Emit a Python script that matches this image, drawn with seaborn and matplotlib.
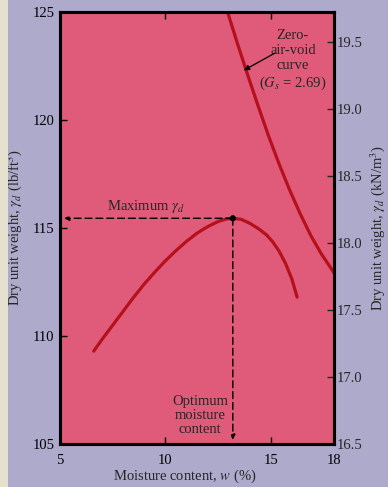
import matplotlib
matplotlib.use("Agg")
import matplotlib.pyplot as plt
from matplotlib.patches import Rectangle
import seaborn as sns
import pandas as pd

# Compaction test curve: moisture content (%) vs dry unit weight (lb/ft^3)
compaction_w = [6.6, 7.0, 7.5, 8.0, 8.5, 9.0, 9.5, 10.0, 10.5, 11.0, 11.5, 12.0, 12.5, 12.9,
                13.2, 13.6, 14.0, 14.4, 14.8, 15.1, 15.4, 15.7, 16.0, 16.25]
compaction_gd = [109.3, 109.85, 110.5, 111.15, 111.8, 112.41, 112.96, 113.48, 113.95, 114.38,
                 114.76, 115.06, 115.3, 115.42, 115.45, 115.4, 115.22, 114.98, 114.68, 114.35,
                 113.92, 113.36, 112.64, 111.8]

# Zero-air-void curve (Gs = 2.69)
zav_w = [12.95, 13.4, 13.9, 14.4, 14.9, 15.4, 15.9, 16.4, 16.9, 17.4, 17.95, 18.0]
zav_gd = [125.0, 123.6, 122.1, 120.65, 119.25, 117.95, 116.75, 115.65, 114.65, 113.8, 113.0, 112.92]

# Optimum point
opt_w = 13.2
max_gd = 115.45

x_ticks = [5, 10, 15, 18]
y_ticks = [105, 110, 115, 120, 125]
y2_ticks = [16.5, 17.0, 17.5, 18.0, 18.5, 19.0, 19.5]

sns.set_style("ticks")
plt.rcParams["font.family"] = ["Liberation Serif", "DejaVu Serif"]
plt.rcParams["mathtext.fontset"] = "stix"

PINK = "#df5b79"
LAVENDER = "#aeaacb"
CURVE = "#b5101c"
FS = 10.5

fig = plt.figure(figsize=(3.88, 4.87), dpi=100, facecolor=LAVENDER)
fig.patches.append(Rectangle((0, 0), 8 / 388, 1, transform=fig.transFigure,
                             facecolor="#e6e0cf", edgecolor="none", zorder=0))
ax = fig.add_axes([60 / 388, 43 / 487, 274 / 388, 432 / 487])
ax.set_facecolor(PINK)

comp_df = pd.DataFrame({"w": compaction_w, "gd": compaction_gd})
zav_df = pd.DataFrame({"w": zav_w, "gd": zav_gd})
sns.lineplot(data=comp_df, x="w", y="gd", sort=False, estimator=None,
             color=CURVE, linewidth=2.3, ax=ax, zorder=3)
sns.lineplot(data=zav_df, x="w", y="gd", sort=False, estimator=None,
             color=CURVE, linewidth=2.3, ax=ax, zorder=3)

# Dashed guides to the axes with arrowheads
ax.annotate("", xy=(5.2, max_gd), xytext=(opt_w, max_gd),
            arrowprops=dict(arrowstyle="-|>", linestyle=(0, (5, 2.8)), lw=1.0,
                            color="black", mutation_scale=7, shrinkA=0, shrinkB=0), zorder=4)
ax.annotate("", xy=(opt_w, 105.2), xytext=(opt_w, max_gd),
            arrowprops=dict(arrowstyle="-|>", linestyle=(0, (5, 2.8)), lw=1.0,
                            color="black", mutation_scale=7, shrinkA=0, shrinkB=0), zorder=4)
sns.scatterplot(x=[opt_w], y=[max_gd], color="black", s=20, edgecolor="none", ax=ax, zorder=5)

ax.text(9.1, 115.62, r"Maximum $\gamma_d$", ha="center", va="bottom", fontsize=FS)
ax.text(11.64, 106.3, "Optimum\nmoisture\ncontent", ha="center", va="center",
        fontsize=FS, linespacing=1.1)
ax.text(16.05, 122.75, "Zero-\nair-void\ncurve\n($G_s$ = 2.69)", ha="center", va="center",
        fontsize=FS, linespacing=1.2)
ax.annotate("", xy=(13.72, 122.3), xytext=(15.2, 123.1),
            arrowprops=dict(arrowstyle="-|>", lw=0.9, color="black",
                            mutation_scale=8, shrinkA=0, shrinkB=0))

ax.set_xlim(5, 18)
ax.set_ylim(105, 125)
ax.set_xticks(x_ticks)
ax.set_yticks(y_ticks)
ax.tick_params(axis="both", direction="in", length=5, width=1.0, labelsize=FS,
               colors="black", top=True)
ax.tick_params(axis="x", pad=7)
ax.tick_params(axis="y", pad=4)
ax.set_xlabel("Moisture content, $w$ (%)", fontsize=FS)
ax.xaxis.set_label_coords(0.455, -0.054)
ax.set_ylabel(r"Dry unit weight, $\gamma_d$ (lb/ft$^3$)", fontsize=FS, labelpad=6)

ax2 = ax.twinx()
ax2.set_ylim(16.5, 19.72)
ax2.set_yticks(y2_ticks)
ax2.set_yticklabels([f"{v:.1f}" for v in y2_ticks])
ax2.tick_params(axis="y", direction="in", length=5, width=1.0, labelsize=FS, pad=2)
ax2.set_ylabel(r"Dry unit weight, $\gamma_d$ (kN/m$^3$)", fontsize=FS, labelpad=4)

for a in (ax, ax2):
    for s in a.spines.values():
        s.set_linewidth(2.2)
        s.set_color("black")
        s.set_visible(True)

fig.savefig("out.png", dpi=100, facecolor=LAVENDER)
